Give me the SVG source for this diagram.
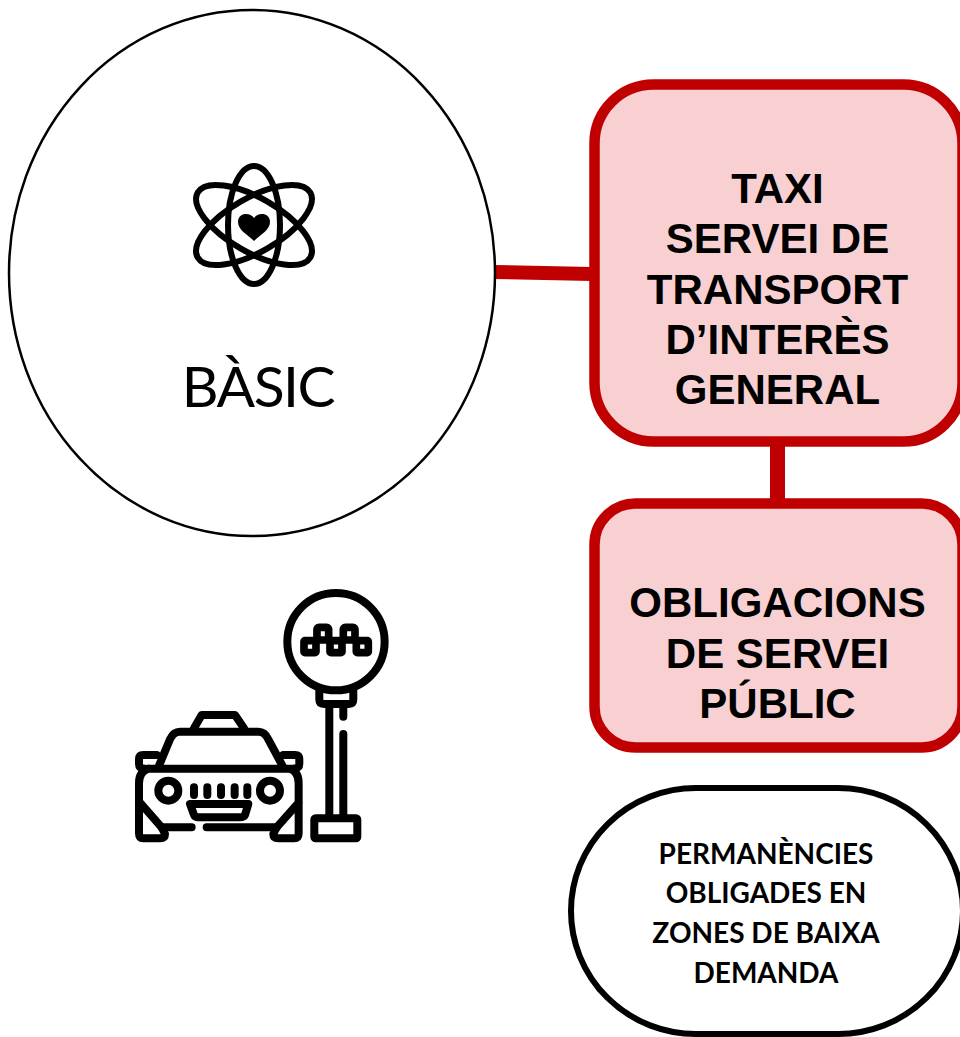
<svg xmlns="http://www.w3.org/2000/svg" width="960" height="1037" viewBox="0 0 960 1037">
<style>
.red{fill:#f8d0d2;stroke:#c00000;stroke-width:10.5}
.box{font:bold 42px "Liberation Sans",Arial,sans-serif;fill:#000;text-anchor:middle}
.pilltxt{font:bold 28px "Lato","Noto Sans",sans-serif;fill:#000;text-anchor:middle}
.ic{fill:none;stroke:#000;stroke-linecap:round;stroke-linejoin:round}
</style>
<rect width="960" height="1037" fill="#fff"/>
<g id="connectors" fill="#c00000">
<path d="M494 265L592 267V281L494 279Z"/>
<rect x="770" y="445" width="15" height="55"/>
</g>
<g id="basic">
<ellipse cx="252" cy="273" rx="243" ry="263" fill="#fff" stroke="#000" stroke-width="2.5"/>
<g class="ic" stroke-width="6">
<ellipse cx="254" cy="225" rx="26" ry="59"/>
<ellipse cx="254" cy="225" rx="27" ry="65" transform="rotate(60 254 225)"/>
<ellipse cx="254" cy="225" rx="27" ry="65" transform="rotate(-60 254 225)"/>
</g>
<path d="M254 241C247 234 238 230 238 222C238 212.500 250 212 254 218C258 212 270 212.500 270 222C270 230 261 234 254 241Z" fill="#000"/>
<text x="258" y="407" font-family="Lato,'Noto Sans',sans-serif" font-size="57" letter-spacing="-1.500" text-anchor="middle">BÀSIC</text>
</g>
<g id="taxi-icon" transform="translate(120 580) scale(.3333)">
<g class="ic" stroke-width="24">
<circle cx="648" cy="185" r="146"/>
<g stroke-width="23">
<rect x="552" y="182" width="36" height="36" rx="3"/>
<rect x="630" y="182" width="36" height="36" rx="3"/>
<rect x="709" y="182" width="36" height="36" rx="3"/>
<rect x="591" y="142" width="35" height="38" rx="6"/>
<rect x="670" y="142" width="35" height="38" rx="6"/>
</g>
<path d="M598 332V358Q598 372 612 372H686Q700 372 700 358V332"/>
<path d="M628 380V710M670 380V410M670 462V710"/>
<rect x="583" y="715" width="129" height="60" rx="4"/>
<path d="M222 445L245 405H345L372 445"/>
<path d="M115 562L150 478Q160 455 180 455H415Q435 455 445 478L490 562"/>
<path d="M110 525H70Q57 525 57 538V552Q57 566 75 566M490 525H525Q538 525 538 538V552Q538 566 518 566"/>
<path d="M85 566H510Q536 575 536 610V760Q536 775 522 775H475Q460 775 460 762L470 742L536 668M85 566Q57 575 57 610V760Q57 775 70 775H120Q135 775 135 762L125 742L60 668"/>
<path d="M125 742H215M260 742H470"/>
<circle cx="145" cy="632" r="30"/>
<circle cx="450" cy="632" r="30"/>
<path d="M222 622V645M262 622V645M303 622V645M344 622V645M382 622V645"/>
<path d="M210 672H385L375 705Q372 712 360 712H235Q225 712 222 705Z"/>
</g>
</g>
<g id="taxi-box">
<rect class="red" x="594.500" y="84.500" width="368" height="357" rx="59"/>
<text class="box" x="777.500" y="203">TAXI</text>
<text class="box" x="777.500" y="253">SERVEI DE</text>
<text class="box" x="777.500" y="304">TRANSPORT</text>
<text class="box" x="777.500" y="354">D’INTERÈS</text>
<text class="box" x="777.500" y="404">GENERAL</text>
</g>
<g id="obligacions-box">
<rect class="red" x="594.500" y="503.500" width="368" height="244" rx="41"/>
<text class="box" x="777.500" y="617">OBLIGACIONS</text>
<text class="box" x="777.500" y="667.500">DE SERVEI</text>
<text class="box" x="777.500" y="718">PÚBLIC</text>
</g>
<g id="permanencies">
<rect x="571" y="788" width="392" height="246" rx="125" ry="123" fill="#fff" stroke="#000" stroke-width="6"/>
<text class="pilltxt" x="766" y="864">PERMANÈNCIES</text>
<text class="pilltxt" x="766" y="903">OBLIGADES EN</text>
<text class="pilltxt" x="766" y="943">ZONES DE BAIXA</text>
<text class="pilltxt" x="766" y="983">DEMANDA</text>
</g>
</svg>
